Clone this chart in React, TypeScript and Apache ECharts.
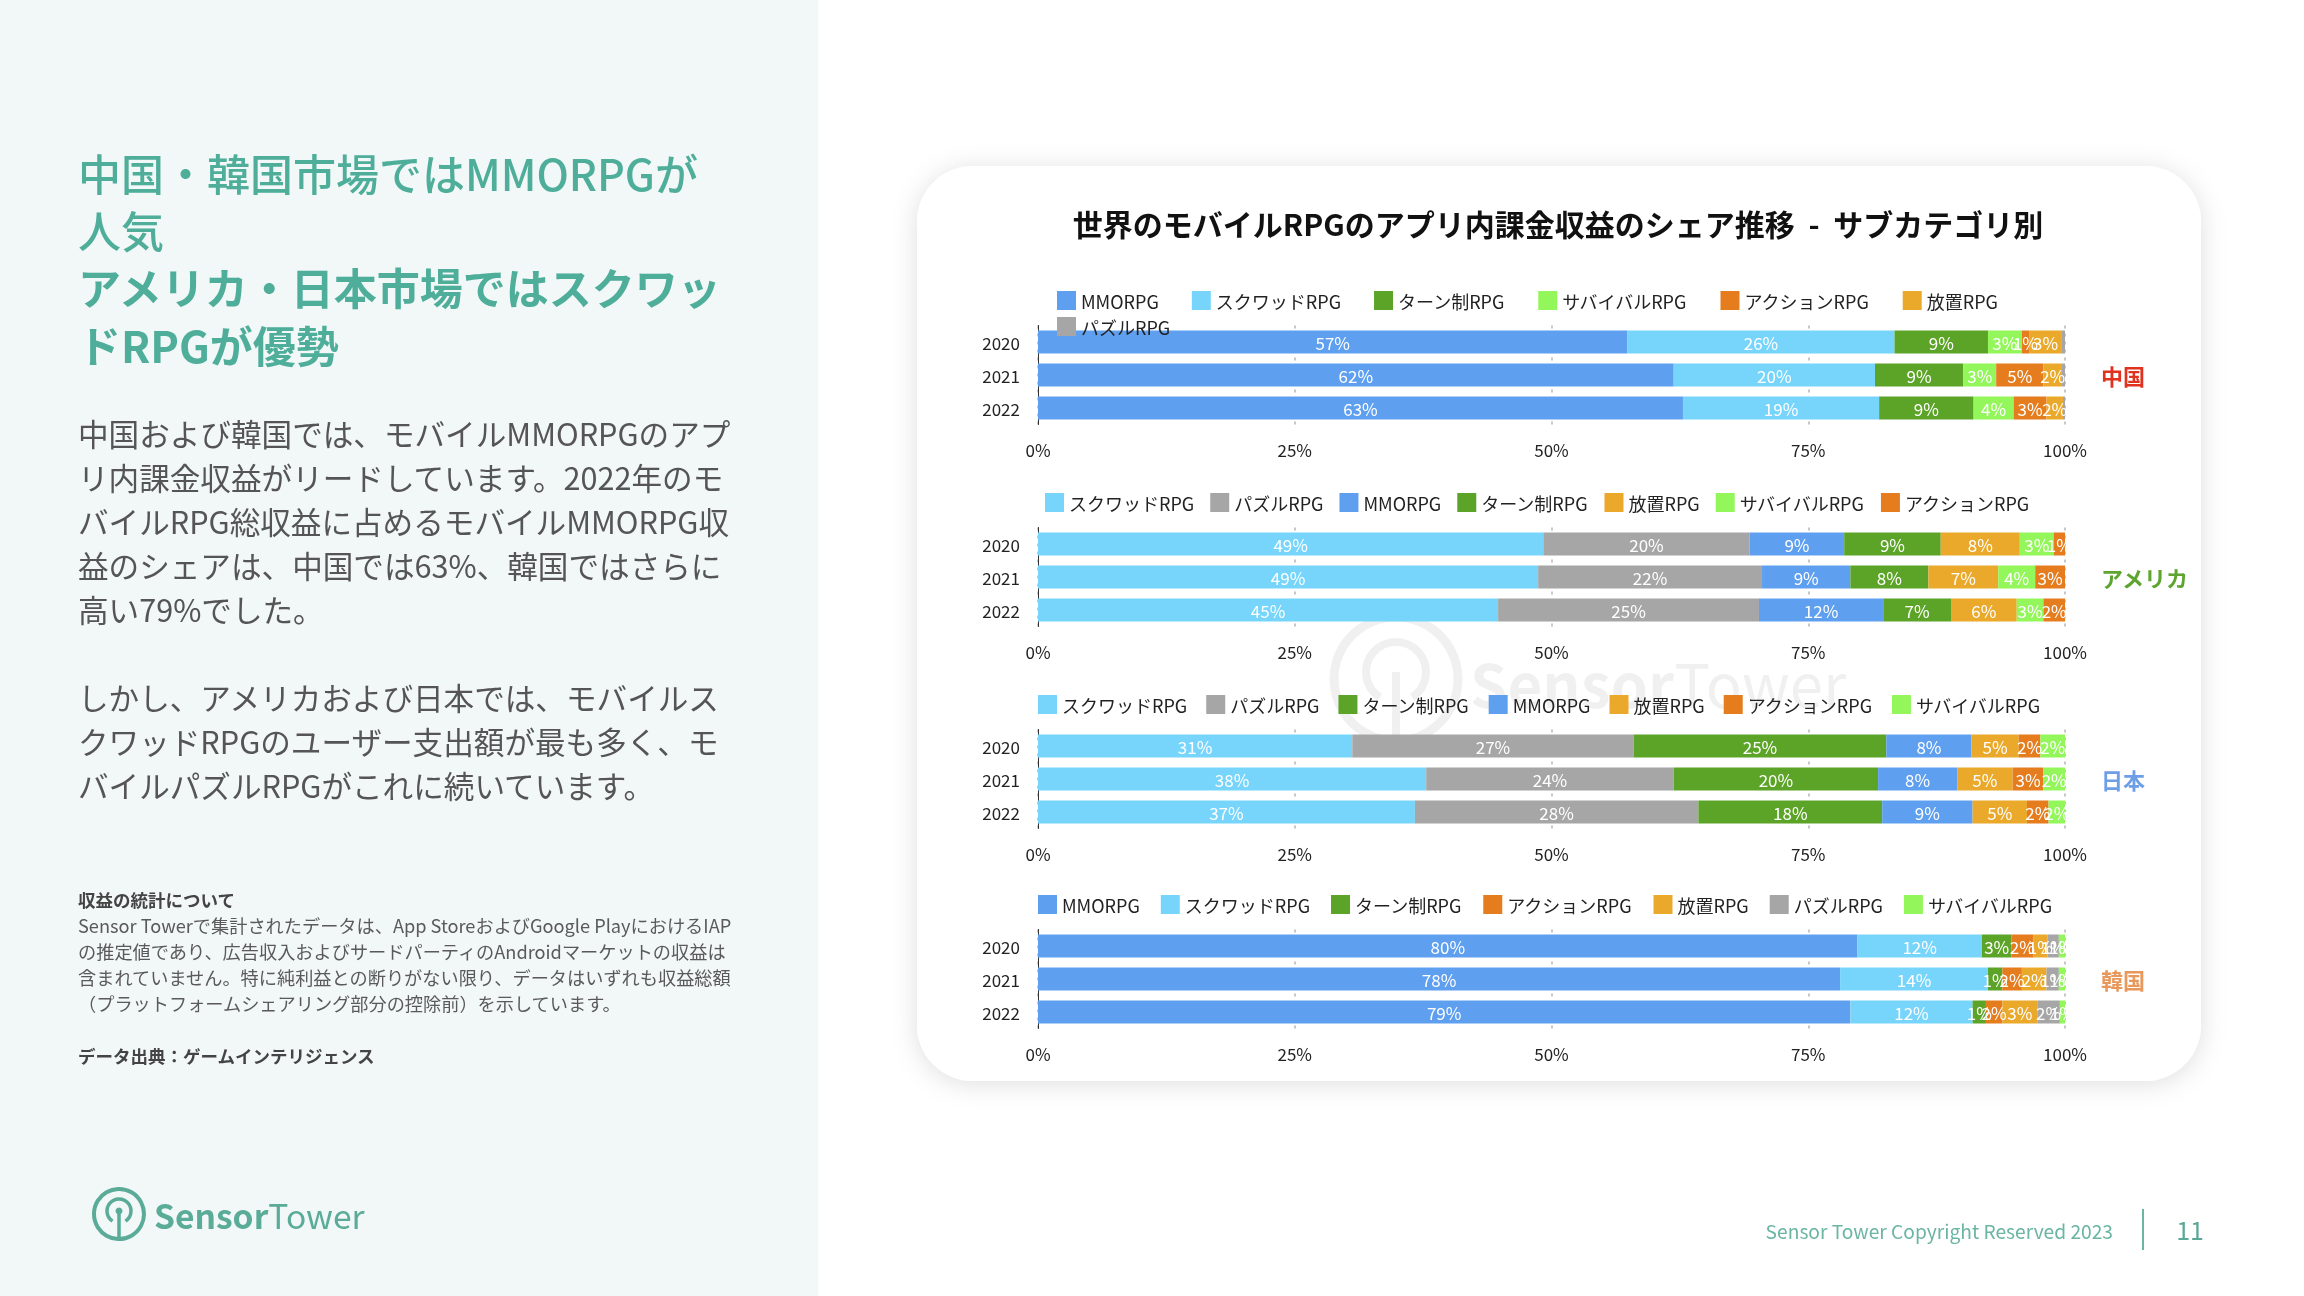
import React, { useEffect, useRef } from 'react';
import * as echarts from 'echarts';

// ---------- DATA ----------
const years = ['2020', '2021', '2022'];
const tickStep = 25;

const categoryNames = ['MMORPG', 'スクワッドRPG', 'ターン制RPG', 'サバイバルRPG', 'アクションRPG', '放置RPG', 'パズルRPG'];
const categoryColors = ['#5f9fef', '#77d5fc', '#5ca428', '#93f65b', '#e57d1f', '#eaa92b', '#a6a6a6'];

const countryNames = ['中国', 'アメリカ', '日本', '韓国'];
const countryColors = ['#e0321e', '#5ea530', '#6e9fe6', '#e8985a'];

// China (stack order = legend order)
const chinaOrder = ['MMORPG', 'スクワッドRPG', 'ターン制RPG', 'サバイバルRPG', 'アクションRPG', '放置RPG', 'パズルRPG'];
const chinaShares = [
  [57.4, 61.9, 62.8],
  [26.0, 19.6, 19.1],
  [9.1, 8.6, 9.2],
  [3.3, 3.2, 3.9],
  [0.7, 4.6, 3.2],
  [3.2, 1.8, 1.6],
  [0.3, 0.3, 0.2],
];

// USA
const usaOrder = ['スクワッドRPG', 'パズルRPG', 'MMORPG', 'ターン制RPG', '放置RPG', 'サバイバルRPG', 'アクションRPG'];
const usaShares = [
  [49.2, 48.7, 44.8],
  [20.1, 21.8, 25.4],
  [9.2, 8.6, 12.1],
  [9.4, 7.6, 6.6],
  [7.7, 6.8, 6.4],
  [3.3, 3.6, 2.6],
  [1.1, 2.9, 2.1],
];

// Japan
const japanOrder = ['スクワッドRPG', 'パズルRPG', 'ターン制RPG', 'MMORPG', '放置RPG', 'アクションRPG', 'サバイバルRPG'];
const japanShares = [
  [30.6, 37.8, 36.7],
  [27.4, 24.1, 27.6],
  [24.6, 19.9, 17.9],
  [8.3, 7.7, 8.8],
  [4.6, 5.4, 5.3],
  [2.1, 3.0, 2.1],
  [2.4, 2.1, 1.6],
];

// Korea
const koreaOrder = ['MMORPG', 'スクワッドRPG', 'ターン制RPG', 'アクションRPG', '放置RPG', 'パズルRPG', 'サバイバルRPG'];
const koreaShares = [
  [79.8, 78.1, 79.1],
  [12.1, 14.4, 11.9],
  [2.9, 1.4, 1.3],
  [2.1, 1.9, 1.6],
  [1.4, 2.4, 3.4],
  [1.1, 1.2, 2.2],
  [0.6, 0.6, 0.5],
];

const headingLines = ['中国・韓国市場ではMMORPGが', '人気', 'アメリカ・日本市場ではスクワッ', 'ドRPGが優勢'];
const bodyLines = [
  '中国および韓国では、モバイルMMORPGのアプ',
  'リ内課金収益がリードしています。2022年のモ',
  'バイルRPG総収益に占めるモバイルMMORPG収',
  '益のシェアは、中国では63%、韓国ではさらに',
  '高い79%でした。',
  '',
  'しかし、アメリカおよび日本では、モバイルス',
  'クワッドRPGのユーザー支出額が最も多く、モ',
  'バイルパズルRPGがこれに続いています。',
];
const noteTitle = '収益の統計について';
const noteLines = [
  'Sensor Towerで集計されたデータは、App StoreおよびGoogle PlayにおけるIAP',
  'の推定値であり、広告収入およびサードパーティのAndroidマーケットの収益は',
  '含まれていません。特に純利益との断りがない限り、データはいずれも収益総額',
  '（プラットフォームシェアリング部分の控除前）を示しています。',
];
const sourceText = 'データ出典：ゲームインテリジェンス';
const chartTitle = '世界のモバイルRPGのアプリ内課金収益のシェア推移  -  サブカテゴリ別';
const footerText = 'Sensor Tower Copyright Reserved 2023';
const pageNumber = '11';

// ---------- LAYOUT ----------
const FONT = "'Noto Sans CJK JP', 'Noto Sans', sans-serif";
const W = 2304;
const H = 1296;
const gridLeft = 1038;
const gridWidth = 1027;
const gridHeight = 99;
const firstBarCenters = [342, 544, 746, 946];
const legendLefts = [1052, 1040, 1033, 1033];
const legendGaps = [33, 16, 19, 21];

const orders = [chinaOrder, usaOrder, japanOrder, koreaOrder];
const sharesList = [chinaShares, usaShares, japanShares, koreaShares];

function colorOf(name: string) {
  return categoryColors[categoryNames.indexOf(name)];
}

function txt(text: string, x: number, y: number, size: number, color: string, weight: any = 'normal', align = 'left', z = 10) {
  return {
    type: 'text',
    x,
    y,
    z,
    silent: true,
    style: { text, fontSize: size, fontFamily: FONT, fontWeight: weight, fill: color, align, verticalAlign: 'middle' },
  };
}

function logoText(x: number, y: number, size: number, color: string, z: number) {
  return {
    type: 'text',
    x,
    y,
    z,
    silent: true,
    style: {
      text: '{a|Sensor}{b|Tower}',
      fill: color,
      align: 'left',
      verticalAlign: 'middle',
      fontFamily: FONT,
      fontSize: size,
      rich: {
        a: { fontWeight: 'bold', fontSize: size, fontFamily: FONT, fill: color },
        b: { fontWeight: 'normal', fontSize: size, fontFamily: FONT, fill: color },
      },
    },
  };
}

function buildOption() {
  const grids: any[] = [];
  const xAxes: any[] = [];
  const yAxes: any[] = [];
  const series: any[] = [];
  const legends: any[] = [];

  orders.forEach((order, c) => {
    const top = firstBarCenters[c] - 16.5;
    grids.push({ left: gridLeft, width: gridWidth, top, height: gridHeight, containLabel: false });
    xAxes.push({
      gridIndex: c,
      type: 'value',
      min: 0,
      max: 100,
      interval: tickStep,
      axisLine: { show: false },
      axisTick: { show: false },
      axisLabel: { formatter: '{value}%', fontSize: 17, color: '#222', margin: 16, fontFamily: FONT },
      splitLine: { show: true, lineStyle: { type: [3, 5], color: '#b5b5b5', width: 1.5 } },
    });
    yAxes.push({
      gridIndex: c,
      type: 'category',
      data: years,
      inverse: true,
      axisLine: { show: true, lineStyle: { color: '#333', width: 1 } },
      axisTick: { show: false },
      axisLabel: { fontSize: 17, color: '#222', margin: 18, fontFamily: FONT },
    });
    order.forEach((name, k) => {
      series.push({
        type: 'bar',
        name,
        xAxisIndex: c,
        yAxisIndex: c,
        stack: 'country' + c,
        barWidth: 23,
        data: sharesList[c][k],
        itemStyle: { color: colorOf(name) },
        label: {
          show: true,
          position: 'inside',
          color: '#fff',
          fontSize: 17,
          fontFamily: FONT,
          formatter: (p: any) => {
            const r = Math.round(p.value);
            return r > 0 ? r + '%' : '';
          },
        },
      });
    });
    const base = {
      left: legendLefts[c],
      itemGap: legendGaps[c],
      itemWidth: 19,
      itemHeight: 19,
      icon: 'rect',
      selectedMode: false,
      textStyle: { fontSize: 18, color: '#222', fontFamily: FONT },
    };
    const legendTop = firstBarCenters[c] - 41 - 15;
    if (c === 0) {
      legends.push({ ...base, top: legendTop, data: order.slice(0, 6) });
      legends.push({ ...base, top: legendTop + 26, data: order.slice(6) });
    } else {
      legends.push({ ...base, top: legendTop, data: order });
    }
  });

  const graphics: any[] = [];
  // backgrounds
  graphics.push({ type: 'rect', z: -20, silent: true, shape: { x: 0, y: 0, width: W, height: H }, style: { fill: '#ffffff' } });
  graphics.push({ type: 'rect', z: -19, silent: true, shape: { x: 0, y: 0, width: 818, height: H }, style: { fill: '#f2f7f7' } });
  // card
  graphics.push({
    type: 'rect',
    z: -18,
    silent: true,
    shape: { x: 917, y: 166, width: 1284, height: 915, r: 56 },
    style: { fill: '#ffffff', shadowBlur: 26, shadowColor: 'rgba(0,0,0,0.13)', shadowOffsetX: 0, shadowOffsetY: 3 },
  });
  // watermark
  const wm = 'rgba(0,0,0,0.06)';
  graphics.push({ type: 'circle', z: -17, silent: true, shape: { cx: 1396, cy: 679, r: 62 }, style: { fill: 'none', stroke: wm, lineWidth: 9 } });
  graphics.push({ type: 'arc', z: -17, silent: true, shape: { cx: 1396, cy: 672, r: 30, startAngle: Math.PI * 0.68, endAngle: Math.PI * 2.32, clockwise: true }, style: { fill: 'none', stroke: wm, lineWidth: 8 } });
  graphics.push({ type: 'line', z: -17, silent: true, shape: { x1: 1396, y1: 672, x2: 1396, y2: 738 }, style: { stroke: wm, lineWidth: 8 } });
  graphics.push(logoText(1470, 681, 60, wm, -17));

  // chart title
  graphics.push(txt(chartTitle, 1558, 223, 30, '#111', 'bold', 'center'));
  // country labels
  countryNames.forEach((n, c) => {
    graphics.push(txt(n, 2101, firstBarCenters[c] + 33, 22, countryColors[c], 'bold', 'left'));
  });

  // left heading
  const headY = [172, 229, 286, 344];
  headingLines.forEach((l, i) => {
    graphics.push(txt(l, 78, headY[i], 43, '#4eae9a', i < 2 ? 500 : 'bold'));
  });
  // body
  bodyLines.forEach((l, i) => {
    if (l) graphics.push(txt(l, 78, 433 + i * 44, 30.6, '#555555', 'normal'));
  });
  // notes
  graphics.push(txt(noteTitle, 78, 899, 17.5, '#444', 'bold'));
  noteLines.forEach((l, i) => {
    graphics.push(txt(l, 78, 925 + i * 26, 18.2, '#5a5a5a', 'normal'));
  });
  graphics.push(txt(sourceText, 78, 1055, 17.5, '#444', 'bold'));

  // logo
  const lc = '#5aab98';
  graphics.push({ type: 'circle', z: 10, silent: true, shape: { cx: 119, cy: 1214, r: 25 }, style: { fill: 'none', stroke: lc, lineWidth: 4 } });
  graphics.push({ type: 'arc', z: 10, silent: true, shape: { cx: 119, cy: 1211, r: 12, startAngle: Math.PI * 0.68, endAngle: Math.PI * 2.32, clockwise: true }, style: { fill: 'none', stroke: lc, lineWidth: 3.5 } });
  graphics.push({ type: 'line', z: 10, silent: true, shape: { x1: 119, y1: 1211, x2: 119, y2: 1239 }, style: { stroke: lc, lineWidth: 3.5 } });
  graphics.push({ type: 'circle', z: 10, silent: true, shape: { cx: 119, cy: 1211, r: 3.5 }, style: { fill: lc } });
  graphics.push(logoText(154, 1214, 33.6, lc, 10));

  // footer
  graphics.push(txt(footerText, 2113, 1231, 19.2, '#6bb5a3', 'normal', 'right'));
  graphics.push({ type: 'line', z: 10, silent: true, shape: { x1: 2143, y1: 1209, x2: 2143, y2: 1250 }, style: { stroke: '#6bb5a3', lineWidth: 2 } });
  graphics.push(txt(pageNumber, 2190, 1229, 25, '#5aa897', 'normal', 'center'));

  return {
    animation: false,
    textStyle: { fontFamily: FONT },
    grid: grids,
    xAxis: xAxes,
    yAxis: yAxes,
    legend: legends,
    series,
    graphic: { elements: graphics },
  };
}

export default function App() {
  const ref = useRef<HTMLDivElement>(null);
  useEffect(() => {
    if (!ref.current) return;
    const chart = echarts.init(ref.current, undefined, { renderer: 'svg' });
    chart.setOption(buildOption() as any);
    return () => chart.dispose();
  }, []);
  return <div ref={ref} style={{ position: 'fixed', left: 0, top: 0, width: W, height: H }} />;
}
